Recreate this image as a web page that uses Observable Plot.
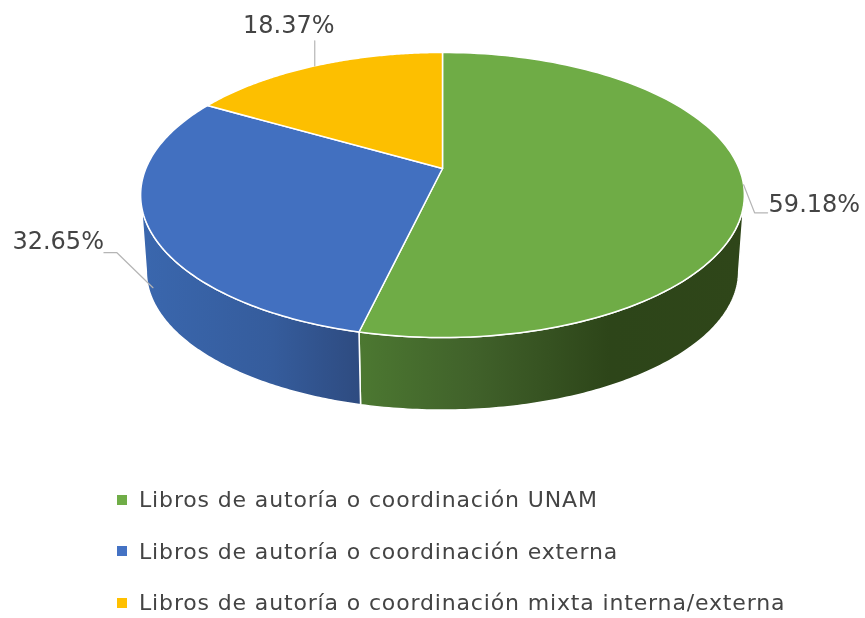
<!DOCTYPE html>
<html><head><meta charset="utf-8">
<script src="https://cdn.jsdelivr.net/npm/d3@7"></script>
<script src="https://cdn.jsdelivr.net/npm/@observablehq/plot@0.6"></script>
<style>
html,body{margin:0;padding:0;background:#fff}
body{width:865px;height:618px;overflow:hidden;font-family:"DejaVu Sans",sans-serif}
#chart svg{display:block;filter:blur(0.45px)}
#legend{padding-left:117px;color:#444;filter:blur(0.45px)}
.row{height:51.5px;display:flex;align-items:center;font-size:22px;letter-spacing:.85px;white-space:nowrap}
.sw{width:10px;height:10px;margin-right:12px;flex:none}
</style></head><body>
<div id="chart"></div><div id="legend"></div>
<script>
const categories = ["Libros de autoría o coordinación UNAM","Libros de autoría o coordinación externa","Libros de autoría o coordinación mixta interna/externa"];
const values = [59.18, 32.65, 18.37];
const labels = ["59.18%","32.65%","18.37%"];
const colors = ["#6fac46","#4270c0","#fdbf00"];
const legendColors = ["#70ad47","#4472c4","#ffc000"];

const W = 865, H = 474;
// Perspective rim of the tilted disc: angle is clockwise from 12 o'clock.
const K = 0.186;
const upper = {cx:442, cy:168, a:137.6, b:296.6};
const lower = {cx:442, cy:245, a:134, b:291};
const rim = (r, deg) => {
  const t = deg*Math.PI/180, u = Math.sin(t), v = -Math.cos(t), d = 1 - K*v;
  return {x: r.cx + r.b*u/d, y: r.cy + r.a*v/d};
};
const arc = (r, a0, a1) => d3.range(0, 121).map(i => rim(r, a0 + (a1-a0)*i/120));

const total = d3.sum(values);
let acc = 0;
const slices = values.map((v,i) => {
  const a0 = acc; acc += v/total*360;
  return {a0, a1: acc, mid:(a0+acc)/2, color: colors[i], label: labels[i]};
});
const [green, blue, yellow] = slices;
const topPoly = s => [{x:upper.cx,y:upper.cy}, ...arc(upper,s.a0,s.a1), {x:upper.cx,y:upper.cy}];
const wall = (a0,a1) => { const t=arc(upper,a0,a1), b=arc(lower,a0,a1).reverse(); return [...t, ...b, t[0]]; };
const tangent = Math.acos(-K)*180/Math.PI;

// Leader lines start on the slice's rim and run to its text.
const gm = rim(upper, green.mid), ym = rim(upper, yellow.mid);
const bt = rim(upper, blue.mid), bb = rim(lower, blue.mid);
const bm = {x: bt.x + (bb.x-bt.x)*0.8, y: bt.y + (bb.y-bt.y)*0.8};
const leaders = [
  [gm, {x:gm.x+11, y:gm.y+28}, {x:gm.x+24, y:gm.y+28}],
  [bm, {x:bm.x-36, y:bm.y-35}, {x:bm.x-49, y:bm.y-35}],
  [ym, {x:ym.x, y:ym.y-25}]
];

const NS = "http://www.w3.org/2000/svg";
const grad = (id, stops) => {
  const g = document.createElementNS(NS,"linearGradient");
  g.setAttribute("id", id);
  stops.forEach(([o,c]) => {
    const s = document.createElementNS(NS,"stop");
    s.setAttribute("offset", o); s.setAttribute("stop-color", c); g.appendChild(s);
  });
  return g;
};
const defsMark = () => {
  const d = document.createElementNS(NS,"defs");
  d.appendChild(grad("gw", [[0,"#4c7831"],[.3,"#40612a"],[.65,"#2d4519"],[1,"#2f4619"]]));
  d.appendChild(grad("bw", [[0,"#3a67ae"],[.6,"#355c9c"],[1,"#2e4b80"]]));
  return d;
};
const poly = (pts, fill) => Plot.line(pts, {x:"x", y:"y", fill, stroke:"white", strokeWidth:1.5, curve:"linear"});
const label = (t, x, y, textAnchor) => Plot.text([t], {x:()=>x, y:()=>y, text:d=>d, textAnchor, fill:"#444", fontSize:24, fontFamily:"DejaVu Sans", lineAnchor:"middle"});

const plot = Plot.plot({
  width:W, height:H, margin:0,
  style:{background:"white", overflow:"visible"},
  x:{domain:[0,W], range:[0,W], axis:null},
  y:{domain:[0,H], range:[0,H], axis:null},
  marks:[
    defsMark,
    poly(wall(tangent, green.a1), "url(#gw)"),
    poly(wall(green.a1, 360-tangent), "url(#bw)"),
    ...slices.map(s => poly(topPoly(s), s.color)),
    ...leaders.map(l => Plot.line(l, {x:"x", y:"y", stroke:"#b5b5b5", strokeWidth:1.2})),
    label(labels[0], gm.x+25, gm.y+19, "start"),
    label(labels[1], bm.x-49, bm.y-46, "end"),
    label(labels[2], ym.x-26, ym.y-41, "middle")
  ]
});
document.getElementById("chart").appendChild(plot);

const lg = d3.select("#legend");
categories.forEach((c,i) => {
  const r = lg.append("div").attr("class","row");
  r.append("span").attr("class","sw").style("background", legendColors[i]);
  r.append("span").text(c);
});
</script>
</body></html>
